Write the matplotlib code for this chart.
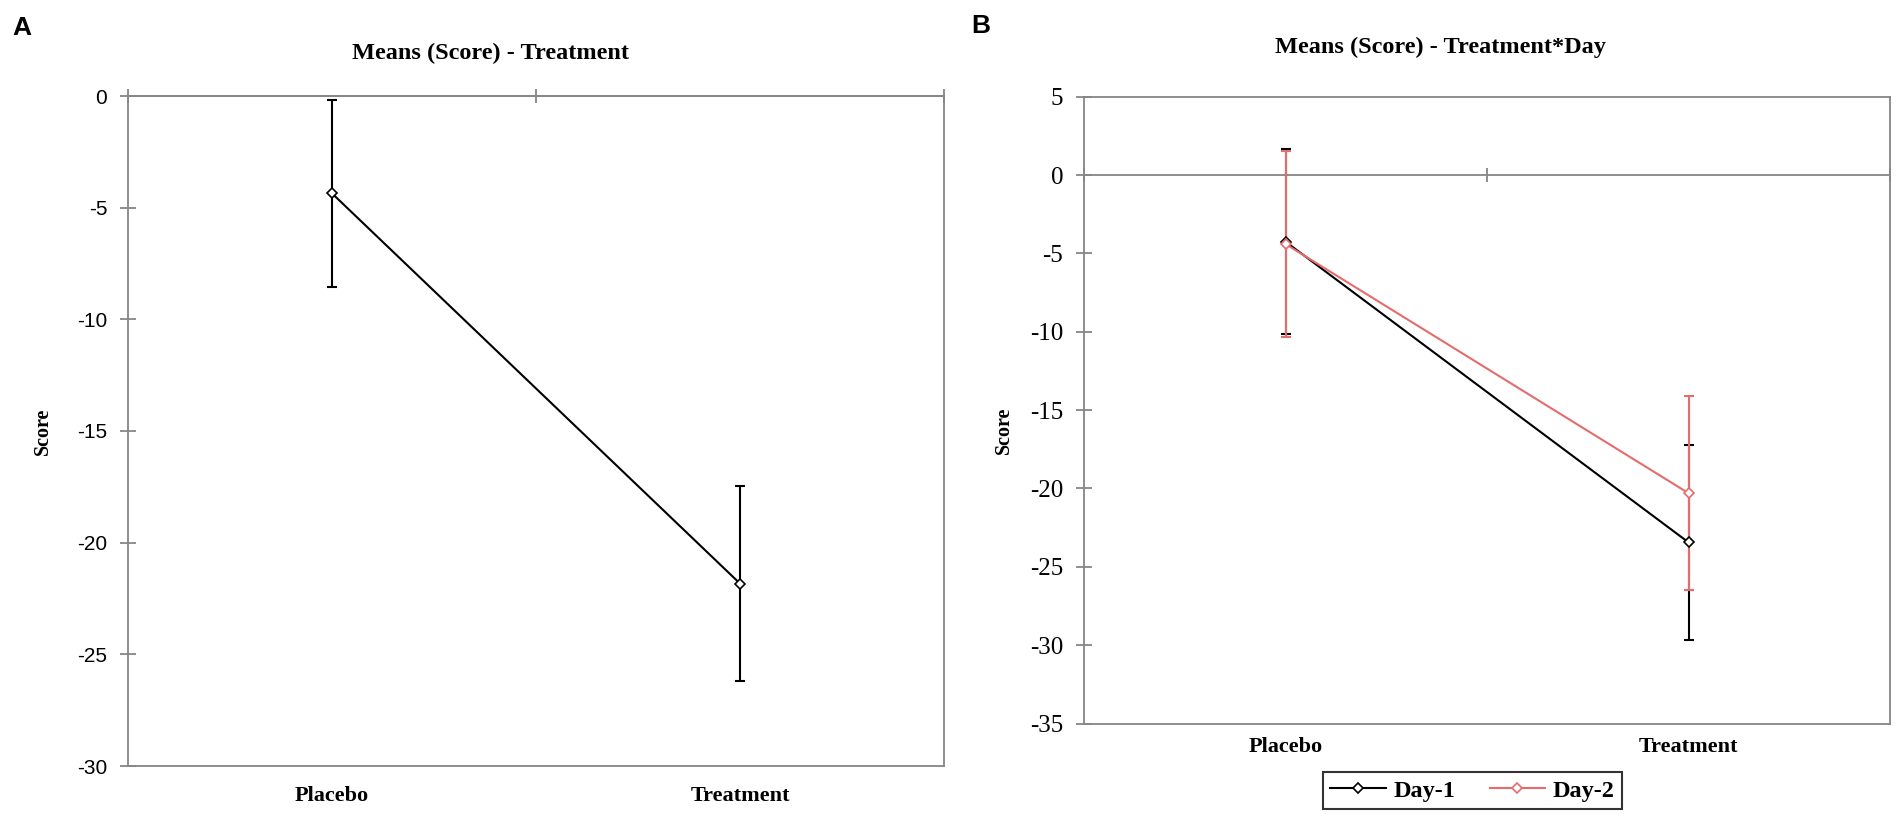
import matplotlib.pyplot as plt

plt.rcParams['axes.unicode_minus'] = False

# Data
categorias = ['Placebo', 'Treatment']
posiciones = [1, 2]

# Panel A: treatment means with error bars
medias_a = [-4.36, -21.83]
errores_a = [4.2, 4.35]

# Panel B: treatment * day
medias_dia1 = [-4.25, -23.44]
errores_dia1 = [5.9, 6.2]
medias_dia2 = [-4.4, -20.3]
errores_dia2 = [5.95, 6.2]

GRIS = '#868686'
ROJO = '#E46C6C'
SERIF = 'Liberation Serif'
SANS = 'Liberation Sans'

fig = plt.figure(figsize=(19.02, 8.19), dpi=100)
ax_a = fig.add_axes([128 / 1902, 1 - 766 / 819, 816 / 1902, 670 / 819])
ax_b = fig.add_axes([1084 / 1902, 1 - 723.5 / 819, 806 / 1902, 626.8 / 819])


def estilo(ax, ymin, ymax, fuente_ticks, tam_ticks, pad_x):
    ax.set_xlim(0.5, 2.5)
    ax.set_ylim(ymin, ymax)
    for s in ax.spines.values():
        s.set_color(GRIS)
        s.set_linewidth(1.3)
    ax.set_yticks(range(ymin, ymax + 1, 5))
    ax.tick_params(axis='y', direction='inout', length=11, width=1.3,
                   color=GRIS, pad=9.5, labelsize=tam_ticks)
    for lab in ax.get_yticklabels():
        lab.set_fontfamily(fuente_ticks)
    ax.set_xticks(posiciones, categorias, fontfamily=SERIF,
                  fontweight='bold', fontsize=16)
    ax.tick_params(axis='x', length=0, pad=pad_x)
    # horizontal axis line at zero with ticks at the category boundaries
    eje0 = ax.secondary_xaxis(0, transform=ax.transData)
    eje0.set_xticks([0.5, 1.5, 2.5])
    eje0.tick_params(axis='x', which='both', direction='inout', length=10,
                     width=1.3, color=GRIS, labelbottom=False, labeltop=False)
    for s in eje0.spines.values():
        s.set_color(GRIS)
        s.set_linewidth(1.3)
    ax.set_ylabel('Score', fontfamily=SERIF, fontweight='bold', fontsize=14.5)


estilo(ax_a, -30, 0, SANS, 15, 14.5)
estilo(ax_b, -35, 5, SERIF, 18, 10)
ax_a.yaxis.set_label_coords(-0.092, 0.5)
ax_b.yaxis.set_label_coords(-0.087, 0.467)

# 1. Panel A
ax_a.errorbar(posiciones, medias_a, yerr=errores_a, fmt='none', ecolor='black',
              elinewidth=1.5, capsize=3.6, capthick=1.5)
ax_a.plot(posiciones, medias_a, color='black', lw=1.5, marker='D', ms=5.5,
          mfc='white', mec='black', mew=1.2)

# 2. Panel B
ax_b.errorbar(posiciones, medias_dia1, yerr=errores_dia1, fmt='none',
              ecolor='black', elinewidth=1.5, capsize=3.6, capthick=1.5)
ax_b.errorbar(posiciones, medias_dia2, yerr=errores_dia2, fmt='none',
              ecolor=ROJO, elinewidth=1.5, capsize=3.6, capthick=1.5)
ax_b.plot(posiciones, medias_dia1, color='black', lw=1.5, marker='D', ms=5.5,
          mfc='white', mec='black', mew=1.2, label='Day-1')
ax_b.plot(posiciones, medias_dia2, color=ROJO, lw=1.5, marker='D', ms=5.5,
          mfc='white', mec=ROJO, mew=1.2, label='Day-2')

leg = ax_b.legend(loc='center', bbox_to_anchor=(1472.5 / 1902, 1 - 790.5 / 819),
                  bbox_transform=fig.transFigure, ncol=2, frameon=True,
                  fancybox=False, edgecolor='black', handlelength=2.3,
                  handletextpad=0.3, columnspacing=1.4, borderpad=0.3,
                  prop={'family': SERIF, 'weight': 'bold', 'size': 17.5})
leg.get_frame().set_linewidth(1.5)

# 3. Titles and panel letters
fig.text(491 / 1902, 1 - 53 / 819, 'Means (Score) - Treatment', ha='center',
         va='center', fontfamily=SERIF, fontweight='bold', fontsize=17.5)
fig.text(1440 / 1902, 1 - 47 / 819, 'Means (Score) - Treatment*Day', ha='center',
         va='center', fontfamily=SERIF, fontweight='bold', fontsize=17.5)
fig.text(12 / 1902, 1 - 16 / 819, 'A', ha='left', va='top', fontfamily=SANS,
         fontweight='bold', fontsize=19)
fig.text(971 / 1902, 1 - 14 / 819, 'B', ha='left', va='top', fontfamily=SANS,
         fontweight='bold', fontsize=19)

fig.savefig('out.png', dpi=100)
